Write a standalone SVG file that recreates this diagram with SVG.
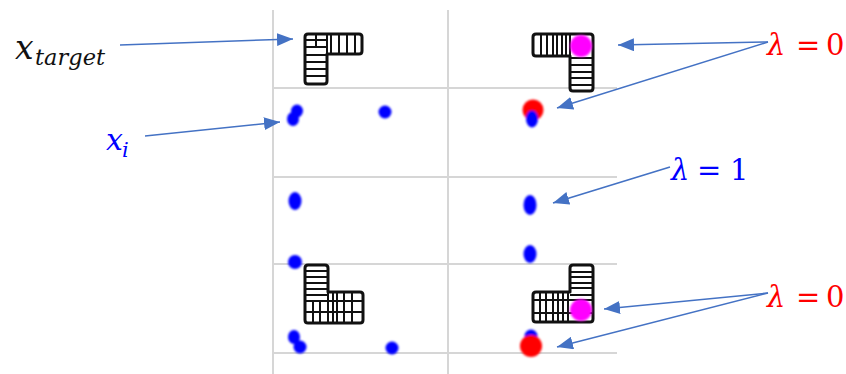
<svg xmlns="http://www.w3.org/2000/svg" width="846" height="374" viewBox="0 0 846 374">
  <style>
    .grid { stroke: #d6d6d6; stroke-width: 2; fill: none; }
    .glyph { fill: #ffffff; stroke: #111111; stroke-width: 3; stroke-linejoin: round; }
    .cell { stroke: #111111; stroke-width: 2; fill: none; }
    .arrow { stroke: #4472c4; stroke-width: 1.5; fill: none; marker-end: url(#head); }
    .blue { fill: #0000ff; }
    .red { fill: #ff0000; }
    .mag { fill: #ff00ff; }
    text { font-family: "DejaVu Serif", "Liberation Serif", serif; }
    .it { font-style: italic; }
  </style>
  <defs>
    <marker id="head" markerUnits="userSpaceOnUse" markerWidth="17" markerHeight="13" refX="16" refY="6.5" orient="auto">
      <path d="M0,0 L16,6.5 L0,13 Z" fill="#4472c4"/>
    </marker>
    <filter id="soft" x="-50%" y="-50%" width="200%" height="200%">
      <feGaussianBlur stdDeviation="0.9"/>
    </filter>
  </defs>

  <rect width="846" height="374" fill="#ffffff"/>

  <!-- panel grid -->
  <g id="grid">
    <line class="grid" x1="273" y1="10" x2="273" y2="374" stroke="#eeeeee"/>
    <line class="grid" x1="448" y1="10" x2="448" y2="374" stroke="#cccccc"/>
    <line class="grid" x1="273" y1="88" x2="617" y2="88"/>
    <line class="grid" x1="273" y1="177" x2="617" y2="177"/>
    <line class="grid" x1="273" y1="264" x2="617" y2="264"/>
    <line class="grid" x1="273" y1="353" x2="617" y2="353"/>
  </g>

  <!-- target shape, top left -->
  <g id="target-top-left">
    <path class="glyph" d="M308,34 H359 Q362,34 362,37 V51 Q362,54 359,54 H327 V81 Q327,84 324,84 H308 Q305,84 305,81 V37 Q305,34 308,34 Z"/>
    <path class="cell" d="M327,34 V54 M331,34 V54 M339,34 V54 M347,34 V54 M355,34 V54 M305,40 H327 M305,47 H327 M316,34 V47 M305,55 H327 M305,62 H327 M305,69 H327 M305,76 H327"/>
  </g>

  <!-- target shape, top right -->
  <g id="target-top-right">
    <path class="glyph" d="M536,34 H590 Q593,34 593,37 V88 Q593,91 590,91 H573 Q570,91 570,88 V56 H536 Q533,56 533,53 V37 Q533,34 536,34 Z"/>
    <path class="cell" d="M541,34 V56 M547,34 V56 M553,34 V56 M557,34 V56 M562,34 V56 M566,34 V56 M570,34 V56 M570,58 H593 M570,65 H593 M570,72 H593 M570,78 H593 M570,85 H593"/>
    <circle class="mag" cx="581" cy="46" r="11" filter="url(#soft)"/>
  </g>

  <!-- target shape, bottom left -->
  <g id="target-bottom-left">
    <path class="glyph" d="M308,265 H325 Q328,265 328,268 V292 H360 Q363,292 363,295 V320 Q363,323 360,323 H308 Q305,323 305,320 V268 Q305,265 308,265 Z"/>
    <path class="cell" d="M305,271 H328 M305,277 H328 M305,283 H328 M305,289 H328 M305,295 H328 M305,301 H363 M305,312 H363 M313,301 V323 M320,301 V323 M328,292 V323 M333,292 V323 M337,292 V323 M344,292 V323 M352,292 V323"/>
  </g>

  <!-- target shape, bottom right -->
  <g id="target-bottom-right">
    <path class="glyph" d="M573,265 H590 Q593,265 593,268 V319 Q593,322 590,322 H536 Q533,322 533,319 V295 Q533,292 536,292 H570 V268 Q570,265 573,265 Z"/>
    <path class="cell" d="M570,272 H593 M570,277 H593 M570,283 H593 M570,288 H593 M570,295 H593 M533,300 H593 M533,313 H593 M540,292 V322 M546,292 V322 M553,292 V322 M558,292 V322 M563,292 V322 M568,292 V322"/>
    <circle class="mag" cx="581" cy="310" r="11" filter="url(#soft)"/>
  </g>

  <!-- sample points -->
  <g id="points" filter="url(#soft)">
    <ellipse class="blue" cx="297" cy="111" rx="6" ry="6.5"/>
    <ellipse class="blue" cx="293" cy="119" rx="6" ry="7"/>
    <circle class="blue" cx="385" cy="112" r="6.5"/>
    <circle class="red" cx="533" cy="110" r="10.5"/>
    <ellipse class="blue" cx="532" cy="119" rx="6" ry="8.5"/>

    <ellipse class="blue" cx="295" cy="201" rx="6.5" ry="9"/>
    <ellipse class="blue" cx="530" cy="205" rx="6.5" ry="10"/>
    <circle class="blue" cx="295" cy="262" r="7"/>
    <ellipse class="blue" cx="530" cy="254" rx="6.5" ry="9"/>

    <ellipse class="blue" cx="294" cy="337" rx="6" ry="7"/>
    <circle class="blue" cx="300" cy="347" r="6.5"/>
    <circle class="blue" cx="392" cy="348" r="6.5"/>
    <circle class="blue" cx="531" cy="336" r="6.5"/>
    <circle class="red" cx="531" cy="346" r="11"/>
  </g>

  <!-- labels -->
  <g id="label-target">
    <text x="15" y="59" font-size="33" class="it" fill="#111111">x</text>
    <text x="35" y="65" font-size="22" class="it" fill="#111111" textLength="70" lengthAdjust="spacingAndGlyphs">target</text>
  </g>
  <g id="label-xi">
    <text x="106" y="150" font-size="30" class="it" fill="#0000ff">x</text>
    <text x="122" y="157" font-size="21" class="it" fill="#0000ff">i</text>
  </g>
  <g id="label-lambda0-top" fill="#ff0000" font-size="29">
    <text x="767" y="55" class="it">λ</text>
    <text x="796" y="55">=</text>
    <text x="826" y="55">0</text>
  </g>
  <g id="label-lambda1" fill="#0000ff" font-size="29">
    <text x="671" y="180" class="it">λ</text>
    <text x="697" y="180">=</text>
    <text x="730" y="180">1</text>
  </g>
  <g id="label-lambda0-bottom" fill="#ff0000" font-size="29">
    <text x="767" y="307" class="it">λ</text>
    <text x="796" y="307">=</text>
    <text x="826" y="307">0</text>
  </g>

  <!-- connectors -->
  <g id="connectors">
    <line class="arrow" x1="120" y1="45" x2="293" y2="39"/>
    <line class="arrow" x1="145" y1="136" x2="280" y2="122"/>
    <line class="arrow" x1="768" y1="42" x2="618" y2="45"/>
    <line class="arrow" x1="768" y1="42" x2="557" y2="108"/>
    <line class="arrow" x1="670" y1="167" x2="553" y2="203"/>
    <line class="arrow" x1="768" y1="293" x2="604" y2="309"/>
    <line class="arrow" x1="768" y1="293" x2="557" y2="347"/>
  </g>
</svg>
